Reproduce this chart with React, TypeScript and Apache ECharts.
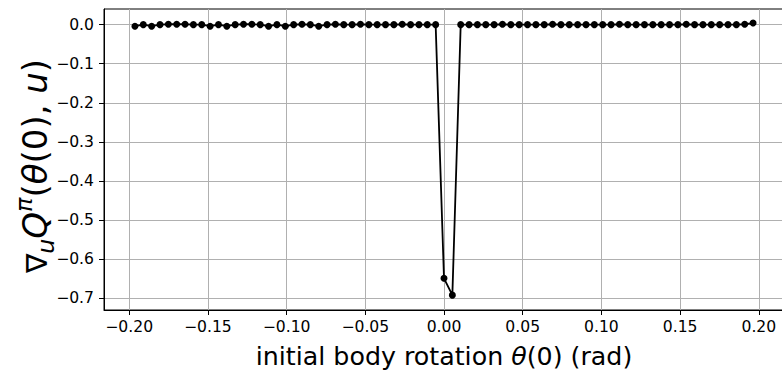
import React, { useEffect, useRef } from 'react';
import * as echarts from 'echarts';

// initial body rotation θ(0) in rad (75 evenly spaced samples)
const thetaValues = [
  -0.19635, -0.19104, -0.18574, -0.18043, -0.17512, -0.16982, -0.16451, -0.1592, -0.1539, -0.14859,
  -0.14328, -0.13798, -0.13267, -0.12736, -0.12206, -0.11675, -0.11144, -0.10614, -0.10083, -0.09552,
  -0.09022, -0.08491, -0.0796, -0.0743, -0.06899, -0.06368, -0.05838, -0.05307, -0.04776, -0.04246,
  -0.03715, -0.03184, -0.02654, -0.02123, -0.01592, -0.01061, -0.00531, 0.0, 0.00531, 0.01061,
  0.01592, 0.02123, 0.02654, 0.03184, 0.03715, 0.04246, 0.04776, 0.05307, 0.05838, 0.06368,
  0.06899, 0.0743, 0.0796, 0.08491, 0.09022, 0.09552, 0.10083, 0.10614, 0.11144, 0.11675,
  0.12206, 0.12736, 0.13267, 0.13798, 0.14328, 0.14859, 0.1539, 0.1592, 0.16451, 0.16982,
  0.17512, 0.18043, 0.18574, 0.19104, 0.19635,
];

// ∇u Q^π(θ(0), u)
const gradientValues = [
  -0.004, 0.0, -0.004, 0.0, 0.001, 0.001, 0.001, 0.0, 0.0, -0.004,
  0.0, -0.004, 0.0, 0.001, 0.001, 0.0, -0.004, 0.0, -0.004, 0.0,
  0.001, 0.0, -0.004, 0.0, 0.001, 0.0, 0.0, 0.001, 0.0, 0.0,
  0.0, 0.0, 0.001, 0.0, 0.0, 0.0, 0.0, -0.649, -0.692, 0.0,
  0.0, 0.0, 0.0, 0.0, 0.001, 0.0, 0.0, 0.0, 0.0, 0.0,
  0.001, 0.0, 0.0, 0.0, 0.0, 0.0, 0.0, 0.0, 0.001, 0.0,
  0.0, 0.0, 0.0, 0.0, 0.0, 0.0, 0.001, 0.0, 0.0, 0.0,
  0.0, 0.0, 0.0, 0.001, 0.004,
];

const xTicks = [-0.2, -0.15, -0.1, -0.05, 0, 0.05, 0.1, 0.15, 0.2];
const yTicks = [0, -0.1, -0.2, -0.3, -0.4, -0.5, -0.6, -0.7];

type Piece = { text: string; scale: number; italic: boolean; shift: number };

const xTitlePieces: Piece[] = [
  { text: 'initial body rotation ', scale: 1, italic: false, shift: 0 },
  { text: 'θ', scale: 1, italic: true, shift: 0 },
  { text: '(0) (rad)', scale: 1, italic: false, shift: 0 },
];

const yTitlePieces: Piece[] = [
  { text: '∇', scale: 0.85, italic: false, shift: 0 },
  { text: 'u', scale: 0.7, italic: true, shift: -0.2 },
  { text: 'Q', scale: 1, italic: true, shift: 0 },
  { text: 'π', scale: 0.7, italic: true, shift: 0.42 },
  { text: '(', scale: 1, italic: false, shift: 0 },
  { text: 'θ', scale: 1, italic: true, shift: 0 },
  { text: '(0), ', scale: 1, italic: false, shift: 0 },
  { text: 'u', scale: 1, italic: true, shift: 0 },
  { text: ')', scale: 1, italic: false, shift: 0 },
];

const FONT = 'DejaVu Sans';

function fmt(v: number, d: number) {
  const s = Math.abs(v).toFixed(d);
  return v < -1e-9 ? '\u2212' + s : s;
}

function buildLabel(pieces: Piece[], size: number, x: number, y: number, rotation: number) {
  const canvas = document.createElement('canvas');
  const ctx = canvas.getContext('2d') as CanvasRenderingContext2D;
  const widths = pieces.map((p) => {
    ctx.font = `${p.italic ? 'italic ' : ''}${size * p.scale}px "${FONT}"`;
    return ctx.measureText(p.text).width;
  });
  const total = widths.reduce((a, b) => a + b, 0);
  let cur = -total / 2;
  const children = pieces.map((p, i) => {
    const fs = size * p.scale;
    const el = {
      type: 'text',
      x: cur,
      y: -p.shift * size - 0.346 * fs,
      silent: true,
      style: {
        text: p.text,
        fontSize: fs,
        fontFamily: FONT,
        fontStyle: p.italic ? 'italic' : 'normal',
        fill: '#000',
        align: 'left',
        verticalAlign: 'middle',
      },
    };
    cur += widths[i];
    return el;
  });
  return { type: 'group', x, y, rotation, silent: true, children };
}

export default function App() {
  const ref = useRef<HTMLDivElement>(null);
  useEffect(() => {
    if (!ref.current) return;
    const chart = echarts.init(ref.current, null, { renderer: 'svg' });
    const data = thetaValues.map((t, i) => [t, gradientValues[i]]);
    const gridColor = '#b0b0b0';
    chart.setOption({
      animation: false,
      backgroundColor: '#fff',
      grid: {
        left: 104,
        right: -2,
        top: 9,
        bottom: 67,
        show: true,
        borderColor: '#000',
        borderWidth: 1,
        backgroundColor: 'transparent',
        outerBoundsMode: 'none',
        containLabel: false,
      },
      xAxis: {
        type: 'value',
        min: -0.216,
        max: 0.216,
        axisLine: { show: true, onZero: false, lineStyle: { color: '#000', width: 1 } },
        axisTick: { show: true, customValues: xTicks, length: 5, lineStyle: { color: '#000', width: 1 } },
        axisLabel: {
          customValues: xTicks,
          formatter: (v: number) => fmt(v, 2),
          fontFamily: FONT,
          fontSize: 15.6,
          color: '#000',
          margin: 9,
        },
        splitLine: { show: true, lineStyle: { color: gridColor, width: 1 } },
      },
      yAxis: {
        type: 'value',
        min: -0.73,
        max: 0.04,
        axisLine: { show: true, onZero: false, lineStyle: { color: '#000', width: 1 } },
        axisTick: { show: true, customValues: yTicks, length: 5, lineStyle: { color: '#000', width: 1 } },
        axisLabel: {
          customValues: yTicks,
          formatter: (v: number) => fmt(v, 1),
          fontFamily: FONT,
          fontSize: 15.6,
          color: '#000',
          margin: 10,
        },
        splitLine: { show: true, lineStyle: { color: gridColor, width: 1 } },
      },
      series: [
        {
          type: 'line',
          data,
          symbol: 'circle',
          symbolSize: 7,
          showSymbol: true,
          itemStyle: { color: '#000' },
          lineStyle: { color: '#000', width: 1.8 },
          clip: false,
        },
      ],
      graphic: [
        buildLabel(xTitlePieces, 25.3, 444, 365, 0),
        buildLabel(yTitlePieces, 34, 47, 166, Math.PI / 2),
      ],
    });
    return () => chart.dispose();
  }, []);
  return (
    <div
      ref={ref}
      style={{ position: 'absolute', left: 0, top: 0, width: 782, height: 377 }}
    />
  );
}
